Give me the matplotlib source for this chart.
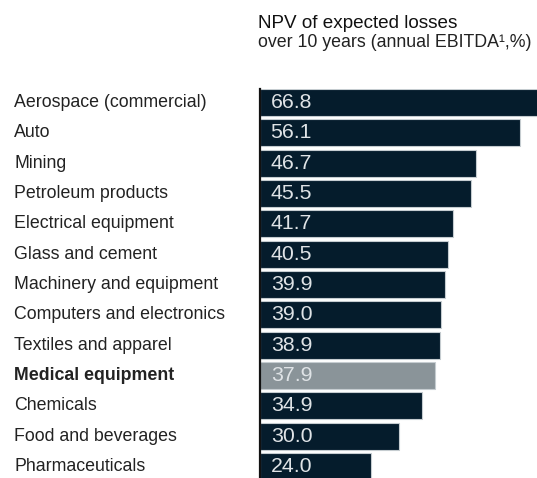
import matplotlib
matplotlib.use("Agg")
import matplotlib.pyplot as plt
from matplotlib.transforms import blended_transform_factory

categories = ["Aerospace (commercial)", "Auto", "Mining", "Petroleum products",
              "Electrical equipment", "Glass and cement", "Machinery and equipment",
              "Computers and electronics", "Textiles and apparel", "Medical equipment",
              "Chemicals", "Food and beverages", "Pharmaceuticals"]
values = [66.8, 56.1, 46.7, 45.5, 41.7, 40.5, 39.9, 39.0, 38.9, 37.9, 34.9, 30.0, 24.0]
highlight = "Medical equipment"
title_line1 = "NPV of expected losses"
title_line2 = "over 10 years (annual EBITDA\u00b9,%)"

W, H = 537, 478
dpi = 100
plt.rcParams['font.family'] = ['Liberation Sans', 'DejaVu Sans']
fig = plt.figure(figsize=(W / dpi, H / dpi), dpi=dpi)

dark = "#051c2c"
grey = "#8a9499"

ax_left = 260 / W
ax_top = 89
ax = fig.add_axes([ax_left, 0, 1 - ax_left, (H - ax_top) / H])
pitch = 30.33
bar_h = 27 / pitch
ypos = list(range(len(categories)))
colors = [grey if c == highlight else dark for c in categories]
ax.barh(ypos, values, height=bar_h, color=colors, edgecolor="#c5ccd0", linewidth=0.8, align="center")
ax.set_ylim(-0.5 + bar_h / 2 + (H - ax_top) / pitch - 0.0, -bar_h / 2)
ax.set_ylim(-bar_h / 2 + (H - ax_top) / pitch, -bar_h / 2)
ax.set_xlim(0, (W - 260) / 4.63)
for s in ["top", "right", "bottom"]:
    ax.spines[s].set_visible(False)
ax.spines["left"].set_color("#111111")
ax.spines["left"].set_linewidth(1.6)
ax.set_xticks([])
ax.set_yticks([])

for y, v in zip(ypos, values):
    ax.text(2.3, y, f"{v:.1f}", va="center", ha="left", fontsize=15.3,
            color="#dfe3e6")

tr = blended_transform_factory(fig.transFigure, ax.transData)
for y, c in zip(ypos, categories):
    ax.text(14 / W, y, c, transform=tr, va="center", ha="left", fontsize=12.8,
            color="#222222", fontweight="bold" if c == highlight else "normal",
            clip_on=False)

fig.text(258 / W, 1 - 28 / H, title_line1, fontsize=13.6, color="#111111", va="baseline", ha="left")
fig.text(258 / W, 1 - 47 / H, title_line2, fontsize=12.8, color="#222222", va="baseline", ha="left")

fig.savefig("out.png", dpi=dpi)
